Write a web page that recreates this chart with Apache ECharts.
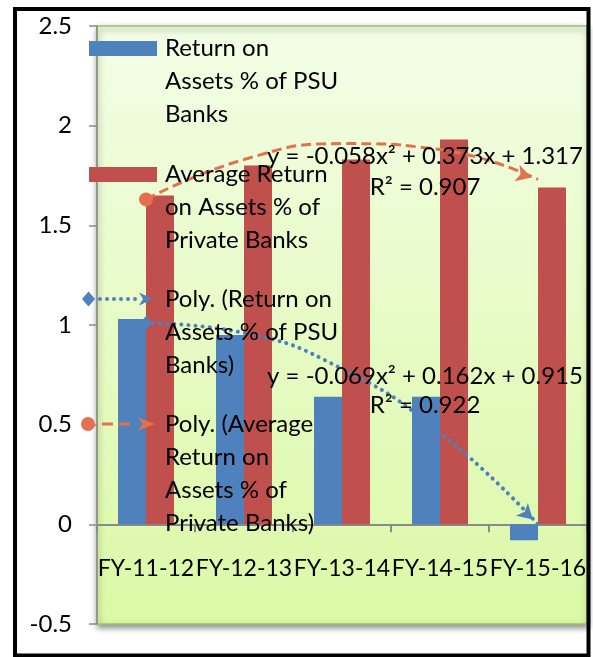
<!DOCTYPE html>
<html><head><meta charset="utf-8">
<script src="https://cdn.jsdelivr.net/npm/echarts@6/dist/echarts.min.js"></script>
<style>html,body{margin:0;padding:0;background:#fff}#c{width:593px;height:657px}</style>
</head><body><div id="c"></div>
<script>
const categories = ['FY-11-12', 'FY-12-13', 'FY-13-14', 'FY-14-15', 'FY-15-16'];
const psuROA = [1.03, 0.95, 0.64, 0.64, -0.08];
const privateROA = [1.65, 1.80, 1.83, 1.93, 1.69];
const psuTrend = [1.01, 0.96, 0.78, 0.46, 0.00];
const privateTrend = [1.63, 1.83, 1.91, 1.88, 1.73];
const yTicks = [-0.5, 0, 0.5, 1, 1.5, 2, 2.5];
const seriesNames = [
  'Return on Assets % of PSU Banks',
  'Average Return on Assets % of Private Banks',
  'Poly. (Return on Assets % of PSU Banks)',
  'Poly. (Average Return on Assets % of Private Banks)'
];
const legendLines = [
  ['Return on', 'Assets % of PSU', 'Banks'],
  ['Average Return', 'on Assets % of', 'Private Banks'],
  ['Poly. (Return on', 'Assets % of PSU', 'Banks)'],
  ['Poly. (Average', 'Return on', 'Assets % of', 'Private Banks)']
];
const psuEquation = ['y = -0.069x\u00b2 + 0.162x + 0.915', 'R\u00b2 = 0.922'];
const privateEquation = ['y = -0.058x\u00b2 + 0.373x + 1.317', 'R\u00b2 = 0.907'];

const FONT = 'Lato';
const FS = 24;
const LH = 33;
const BLUE = '#4f81bd', RED = '#c0504d', ORANGE = '#e3714f';

function dotPath(cx, cy, r) {
  return 'M' + (cx - r) + ' ' + cy + ' A' + r + ' ' + r + ' 0 1 0 ' + (cx + r) + ' ' + cy +
    ' A' + r + ' ' + r + ' 0 1 0 ' + (cx - r) + ' ' + cy + ' Z ';
}
let iconPsuTrend = 'path://M0 8 L6.5 0.5 L13 8 L6.5 15.5 Z ';
[18, 25, 32, 39, 46, 53].forEach(x => iconPsuTrend += dotPath(x, 8, 2));
iconPsuTrend += 'M71 8 L57 1.5 L61 8 L57 14.5 Z';
let iconPrivTrend = 'path://' + dotPath(7, 8, 7) +
  'M21 6.6 L32 6.6 L32 9.4 L21 9.4 Z M38 6.6 L49 6.6 L49 9.4 L38 9.4 Z ' +
  'M74 8 L57 1.5 L62 8 L57 14.5 Z';

function legendText(i) {
  const n = legendLines[i].length;
  return '\n'.repeat(n - 1) + legendLines[i].join('\n');
}
function makeLegend(i, left, iconCenter, icon, w, h, padLeft) {
  const n = legendLines[i].length;
  return {
    data: [{name: seriesNames[i], icon: icon,
            itemStyle: {borderWidth: 0}}],
    left: left,
    top: iconCenter - (2 * n - 1) * LH / 2,
    padding: 0,
    itemWidth: w, itemHeight: h,
    selectedMode: false,
    formatter: () => legendText(i),
    textStyle: {fontFamily: FONT, fontSize: FS, lineHeight: LH, color: '#000', padding: [0, 0, 0, padLeft]}
  };
}

function trendData(vals, startSymbol, startSize) {
  return vals.map((v, i) => {
    if (i === 0) return {value: v, symbol: startSymbol, symbolSize: startSize};
    if (i === vals.length - 1) return {value: v, symbol: 'arrow', symbolSize: [13, 15]};
    return {value: v, symbol: 'none'};
  });
}

const chart = echarts.init(document.getElementById('c'), null, {renderer: 'canvas'});
const option = {
  animation: false,
  backgroundColor: '#fff',
  grid: {
    left: 97, right: 6, top: 26, bottom: 33,
    outerBoundsMode: 'none',
    show: true,
    backgroundColor: {type: 'linear', x: 0, y: 0, x2: 0, y2: 1,
      colorStops: [{offset: 0, color: '#f3fde6'}, {offset: 1, color: '#dbf9a6'}]},
    borderColor: '#a2c26a', borderWidth: 1.5,
    shadowColor: 'rgba(0,0,0,0.45)', shadowBlur: 6, shadowOffsetY: 3, shadowOffsetX: 1
  },
  legend: [
    makeLegend(0, 89, 48.5, 'rect', 68, 15, 3),
    makeLegend(1, 89, 174.5, 'rect', 68, 15, 3),
    makeLegend(2, 82, 299, iconPsuTrend, 71, 15, 7),
    makeLegend(3, 81, 424, iconPrivTrend, 74, 14, 5)
  ],
  xAxis: {
    type: 'category', data: categories,
    axisLine: {onZero: true, lineStyle: {color: '#8a8a8a', width: 2}},
    axisTick: {show: true, length: 8, lineStyle: {color: '#8a8a8a', width: 2}},
    axisLabel: {show: true, interval: 0, hideOverlap: false, margin: -67,
                fontFamily: FONT, fontSize: 23, color: '#000'},
    splitLine: {show: false}
  },
  yAxis: {
    type: 'value',
    min: yTicks[0], max: yTicks[yTicks.length - 1], interval: yTicks[1] - yTicks[0],
    axisLine: {show: true, lineStyle: {color: '#8a8a8a', width: 1.5}},
    axisTick: {show: true, length: 8, lineStyle: {color: '#8a8a8a', width: 1.5}},
    axisLabel: {margin: 25, fontFamily: FONT, fontSize: FS, color: '#000'},
    splitLine: {show: false}
  },
  series: [
    {name: seriesNames[0], type: 'bar', data: psuROA, barWidth: 28, barGap: '0%',
     itemStyle: {color: BLUE}, silent: true, z: 2},
    {name: seriesNames[1], type: 'bar', data: privateROA, barWidth: 28, barGap: '0%',
     itemStyle: {color: RED}, silent: true, z: 2},
    {name: seriesNames[2], type: 'line', data: trendData(psuTrend, 'diamond', [12, 14]),
     smooth: 0.5, symbol: 'none', showAllSymbol: true, silent: true, z: 3,
     itemStyle: {color: BLUE},
     lineStyle: {color: BLUE, width: 4, type: [0.1, 7], cap: 'round'}},
    {name: seriesNames[3], type: 'line', data: trendData(privateTrend, 'circle', 14),
     smooth: 0.5, symbol: 'none', showAllSymbol: true, silent: true, z: 3,
     itemStyle: {color: ORANGE},
     lineStyle: {color: ORANGE, width: 3, type: [10, 5]}}
  ],
  graphic: [
    {type: 'text', x: 425, y: 156, z: 10, style: {text: privateEquation[0], fontFamily: FONT, fontSize: FS, fill: '#000', align: 'center', verticalAlign: 'middle'}},
    {type: 'text', x: 425, y: 187, z: 10, style: {text: privateEquation[1], fontFamily: FONT, fontSize: FS, fill: '#000', align: 'center', verticalAlign: 'middle'}},
    {type: 'text', x: 425, y: 376, z: 10, style: {text: psuEquation[0], fontFamily: FONT, fontSize: FS, fill: '#000', align: 'center', verticalAlign: 'middle'}},
    {type: 'text', x: 425, y: 405, z: 10, style: {text: psuEquation[1], fontFamily: FONT, fontSize: FS, fill: '#000', align: 'center', verticalAlign: 'middle'}},
    {type: 'rect', z: 100, shape: {x: 15, y: 9, width: 573.5, height: 646.5},
     style: {fill: 'none', stroke: '#000', lineWidth: 4}}
  ]
};
chart.setOption(option);

function arrowFix(vals) {
  const n = vals.length;
  const p1 = chart.convertToPixel({gridIndex: 0}, [n - 2, vals[n - 2]]);
  const p2 = chart.convertToPixel({gridIndex: 0}, [n - 1, vals[n - 1]]);
  const dx = p2[0] - p1[0], dy = p2[1] - p1[1];
  const L = Math.hypot(dx, dy);
  const theta = Math.atan2(-dy, dx) * 180 / Math.PI;
  return {rotate: theta - 90, offset: [-dx / L * 7, -dy / L * 7]};
}
function withArrow(data, vals) {
  const a = arrowFix(vals);
  const d = data.slice();
  const last = d.length - 1;
  d[last] = Object.assign({}, d[last], {symbolRotate: a.rotate, symbolOffset: a.offset});
  return d;
}
chart.setOption({
  series: [
    {}, {},
    {data: withArrow(trendData(psuTrend, 'diamond', [12, 14]), psuTrend)},
    {data: withArrow(trendData(privateTrend, 'circle', 14), privateTrend)}
  ]
});
</script>
</body></html>
